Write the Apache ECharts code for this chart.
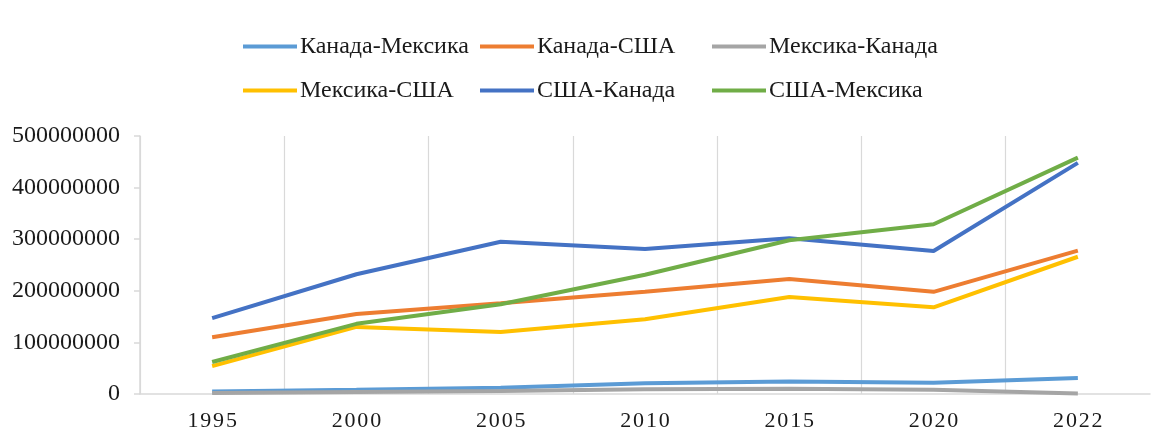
<!DOCTYPE html>
<html><head><meta charset="utf-8">
<script src="https://cdn.jsdelivr.net/npm/echarts@6/dist/echarts.min.js"></script>
<style>html,body{margin:0;padding:0;background:#fff}#c{width:1156px;height:432px}</style>
</head><body><div id="c"></div>
<script>
const years = ['1995','2000','2005','2010','2015','2020','2022'];
const seriesNames = ['Канада-Мексика','Канада-США','Мексика-Канада','Мексика-США','США-Канада','США-Мексика'];
const canadaMexico = [5000000, 8000000, 12000000, 21000000, 24000000, 22000000, 31000000];
const canadaUSA = [110000000, 155000000, 176000000, 198000000, 223000000, 198000000, 278000000];
const mexicoCanada = [2000000, 4000000, 6000000, 9000000, 10000000, 8000000, 1000000];
const mexicoUSA = [54000000, 130000000, 120000000, 145000000, 188000000, 168000000, 266000000];
const usaCanada = [147000000, 232000000, 295000000, 281000000, 302000000, 277000000, 448000000];
const usaMexico = [62000000, 136000000, 174000000, 231000000, 298000000, 329000000, 458000000];
const yTicks = [0, 100000000, 200000000, 300000000, 400000000, 500000000];

const values = [canadaMexico, canadaUSA, mexicoCanada, mexicoUSA, usaCanada, usaMexico];
const colors = ['#5B9BD5','#ED7D31','#A5A5A5','#FFC000','#4472C4','#70AD47'];
const font = '"Liberation Serif", "Times New Roman", serif';

function legendCol(left, names) {
  return {
    left: left, top: 33, padding: 0, orient: 'vertical', itemGap: 17,
    icon: 'rect', itemWidth: 54, itemHeight: 4,
    textStyle: { fontFamily: font, fontSize: 24, color: '#1a1a1a', padding: [0,0,0,-2], lineHeight: 27 },
    data: names
  };
}

const chart = echarts.init(document.getElementById('c'), null, {renderer: 'canvas'});
chart.setOption({
  animation: false,
  color: colors,
  legend: [
    legendCol(243, [seriesNames[0], seriesNames[3]]),
    legendCol(480, [seriesNames[1], seriesNames[4]]),
    legendCol(712, [seriesNames[2], seriesNames[5]])
  ],
  grid: { left: 140, right: 6, top: 136, bottom: 38 },
  xAxis: {
    type: 'category', data: years, boundaryGap: true,
    axisLine: { lineStyle: { color: '#d9d9d9', width: 1.5 } },
    axisTick: { show: false },
    axisLabel: { fontFamily: font, fontSize: 22, color: '#1a1a1a', margin: 16,
      formatter: v => v.split('').join('\u200A') },
    splitLine: { show: true, lineStyle: { color: ['#d9d9d9','#d9d9d9','#d9d9d9','#d9d9d9','#d9d9d9','#d9d9d9','#d9d9d9','rgba(0,0,0,0)'], width: 1.2 } }
  },
  yAxis: {
    type: 'value', min: yTicks[0], max: yTicks[yTicks.length-1], interval: yTicks[1]-yTicks[0],
    axisLine: { show: true, lineStyle: { color: '#d9d9d9', width: 1.5 } },
    axisTick: { show: true, length: 6, lineStyle: { color: '#d9d9d9', width: 1.5 } },
    axisLabel: { fontFamily: font, fontSize: 24, color: '#1a1a1a', margin: 20,
      formatter: v => String(v) },
    splitLine: { show: false }
  },
  series: seriesNames.map((n, i) => ({
    name: n, type: 'line', data: values[i], showSymbol: false, symbol: 'none',
    lineStyle: { width: 4, color: colors[i] }, itemStyle: { color: colors[i] }
  }))
});
</script></body></html>
